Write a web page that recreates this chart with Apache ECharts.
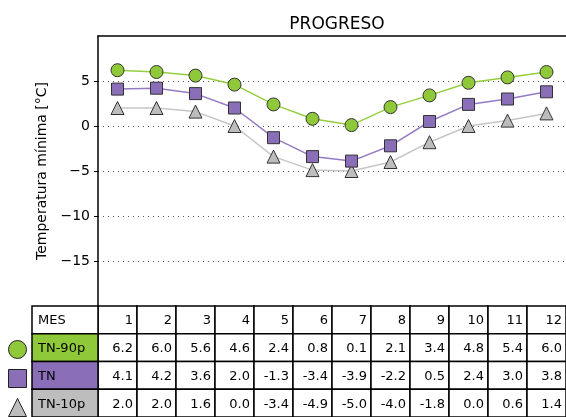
<!DOCTYPE html>
<html>
<head>
<meta charset="utf-8">
<script src="https://cdn.jsdelivr.net/npm/echarts@6/dist/echarts.min.js"></script>
<style>
  html, body { margin: 0; padding: 0; background: #fff; }
  #chart { width: 566px; height: 417px; }
</style>
</head>
<body>
<div id="chart"></div>
<script>
// Monthly minimum temperature, Progreso station
const months = ['1', '2', '3', '4', '5', '6', '7', '8', '9', '10', '11', '12'];
const tn90p = [6.2, 6.0, 5.6, 4.6, 2.4, 0.8, 0.1, 2.1, 3.4, 4.8, 5.4, 6.0];
const tn = [4.1, 4.2, 3.6, 2.0, -1.3, -3.4, -3.9, -2.2, 0.5, 2.4, 3.0, 3.8];
const tn10p = [2.0, 2.0, 1.6, 0.0, -3.4, -4.9, -5.0, -4.0, -1.8, 0.0, 0.6, 1.4];
const rowLabels = ['MES', 'TN-90p', 'TN', 'TN-10p'];
const yTicks = [5, 0, -5, -10, -15];

const FONT = 'DejaVu Sans';
const C90 = '#8fc93a', CTN = '#8a6fb8', C10 = '#bdbdbd';
const rowFill = ['#ffffff', C90, CTN, C10];
const rowValues = [null, tn90p, tn, tn10p];

// value cells of the table: one per (month, row)
const valueCells = [];
for (let r = 0; r < rowLabels.length; r++) {
  for (let c = 0; c < months.length; c++) valueCells.push([c, r]);
}
const labelCells = rowLabels.map((_, r) => [0, r]);

function cellText(c, r) {
  return r === 0 ? months[c] : rowValues[r][c].toFixed(1);
}

function cellShape(api, fill, text, align) {
  const p = api.coord([api.value(0), api.value(1)]);
  const s = api.size([1, 1]);
  const x0 = p[0] - s[0] / 2, y0 = p[1] - s[1] / 2;
  return {
    type: 'group',
    children: [
      { type: 'rect', shape: { x: x0, y: y0, width: s[0], height: s[1] },
        style: { fill: fill, stroke: '#000', lineWidth: 1.5 } },
      { type: 'text',
        style: { text: text, x: align === 'right' ? x0 + s[0] - 4 : x0 + 6, y: p[1] + 1,
                 align: align, verticalAlign: 'middle', fill: '#000',
                 font: '13px "' + FONT + '"' } }
    ]
  };
}

const chart = echarts.init(document.getElementById('chart'));
chart.setOption({
  animation: false,
  textStyle: { fontFamily: FONT },
  title: {
    text: 'PROGRESO', left: 332, top: 11, textAlign: 'center',
    textStyle: { fontFamily: FONT, fontSize: 17, fontWeight: 'normal', color: '#000' }
  },
  legend: {
    orient: 'vertical', left: 8, top: 340, padding: 0,
    itemWidth: 18, itemHeight: 18, itemGap: 10,
    selectedMode: false, formatter: () => '',
    data: [
      { name: 'TN-90p', icon: 'circle' },
      { name: 'TN', icon: 'rect' },
      { name: 'TN-10p', icon: 'triangle' }
    ],
    itemStyle: { borderColor: '#222', borderWidth: 1 }
  },
  grid: [
    { left: 98, right: 0, top: 36, height: 270 },
    { left: 98, right: 0, top: 306, height: 118 },
    { left: 32, width: 66, top: 306, height: 118 }
  ],
  xAxis: [
    { gridIndex: 0, type: 'category', data: months, boundaryGap: true, position: 'top',
      axisLine: { show: true, onZero: false, lineStyle: { color: '#000', width: 1.5 } },
      axisTick: { show: false }, axisLabel: { show: false } },
    { gridIndex: 1, type: 'category', data: months, show: false },
    { gridIndex: 2, type: 'category', data: ['label'], show: false }
  ],
  yAxis: [
    { gridIndex: 0, type: 'value', min: -20, max: 10, interval: 5,
      name: 'Temperatura mínima [°C]', nameLocation: 'middle', nameGap: 44,
      nameTextStyle: { fontFamily: FONT, fontSize: 14, color: '#000' },
      axisLine: { show: true, onZero: false, lineStyle: { color: '#000', width: 1.5 } },
      axisTick: { show: true, length: 4, customValues: yTicks, lineStyle: { color: '#000' } },
      axisLabel: { customValues: yTicks, fontFamily: FONT, fontSize: 14, color: '#000', margin: 8,
                   formatter: v => String(v).replace('-', '\u2212') },
      splitLine: { show: true, lineStyle: { color: '#555', type: [1, 4], width: 1 } } },
    { gridIndex: 1, type: 'category', data: rowLabels, inverse: true, show: false },
    { gridIndex: 2, type: 'category', data: rowLabels, inverse: true, show: false }
  ],
  series: [
    { name: 'TN-90p', type: 'line', xAxisIndex: 0, yAxisIndex: 0, data: tn90p,
      symbol: 'circle', symbolSize: 13, z: 5,
      lineStyle: { color: '#94cf3e', width: 1.5 },
      itemStyle: { color: C90, borderColor: '#333', borderWidth: 1 } },
    { name: 'TN', type: 'line', xAxisIndex: 0, yAxisIndex: 0, data: tn,
      symbol: 'rect', symbolSize: 12, z: 4,
      lineStyle: { color: '#957ac4', width: 1.5 },
      itemStyle: { color: CTN, borderColor: '#333', borderWidth: 1 } },
    { name: 'TN-10p', type: 'line', xAxisIndex: 0, yAxisIndex: 0, data: tn10p,
      symbol: 'triangle', symbolSize: 13, z: 3,
      lineStyle: { color: '#c6c6c6', width: 1.5 },
      itemStyle: { color: C10, borderColor: '#333', borderWidth: 1 } },
    { type: 'custom', xAxisIndex: 1, yAxisIndex: 1, data: valueCells, silent: true,
      renderItem: (params, api) => {
        const c = api.value(0), r = api.value(1);
        return cellShape(api, '#ffffff', cellText(c, r), 'right');
      } },
    { type: 'custom', xAxisIndex: 2, yAxisIndex: 2, data: labelCells, silent: true,
      renderItem: (params, api) => {
        const r = api.value(1);
        return cellShape(api, rowFill[r], rowLabels[r], 'left');
      } }
  ]
});
</script>
</body>
</html>
